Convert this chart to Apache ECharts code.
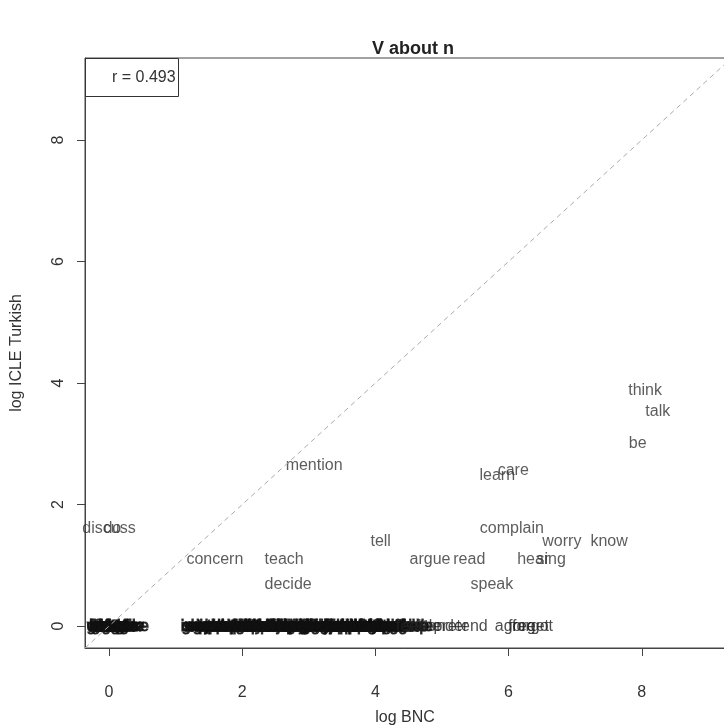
<!DOCTYPE html>
<html>
<head>
<meta charset="utf-8">
<script src="https://cdn.jsdelivr.net/npm/echarts@6/dist/echarts.min.js"></script>
<style>
  html, body { margin: 0; background: #fff; }
  #chart { width: 724px; height: 727px; }
</style>
</head>
<body>
<div id="chart"></div>
<script>
// tick labels
const xTicks = [0, 2, 4, 6, 8]
const yTicks = [0, 2, 4, 6, 8]

// verbs with a count above 1 in ICLE Turkish
const words = ['think', 'talk', 'be', 'care', 'learn', 'mention', 'complain', 'worry', 'know', 'tell',
  'argue', 'read', 'hear', 'sing', 'speak', 'concern', 'teach', 'decide', 'discuss', 'do']
const logBnc = [8.05, 8.24, 7.94, 6.07, 5.83, 3.08, 6.05, 6.80, 7.51, 4.08,
  4.82, 5.41, 6.37, 6.64, 5.75, 1.59, 2.63, 2.69, 0, 0.05]
const logIcle = [3.87, 3.53, 3.00, 2.56, 2.48, 2.64, 1.61, 1.39, 1.39, 1.39,
  1.10, 1.10, 1.10, 1.10, 0.69, 1.10, 1.10, 0.69, 1.61, 1.61]

// verbs seen once in ICLE Turkish (log = 0)
const onceWords = [
  'moan', 'rave', 'fuss', 'grumble', 'brag', 'boast', 'whinge', 'rant', 'muse', 'agonise', 'fret', 'argue',
  'carp', 'chunter', 'blether', 'witter', 'grizzle', 'kvetch', 'natter',
  'say', 'shout', 'inquire', 'mutter', 'enquire', 'gossip', 'joke', 'lecture', 'whisper', 'protest', 'quarrel',
  'reminisce', 'testify', 'chat', 'comment', 'negotiate', 'preach', 'inform', 'warn', 'remind', 'fantasise',
  'hesitate', 'bother', 'puzzle', 'hurry', 'panic', 'remark', 'tease', 'lie', 'dream', 'ask',
  'write', 'laugh', 'cry', 'smile', 'bicker', 'rejoice', 'enthuse', 'speculate', 'theorise', 'moralise',
  'generalise', 'grouse', 'gripe', 'fume', 'bluster', 'crow', 'gloat', 'harp', 'jest', 'lament',
  'marvel', 'meditate', 'mumble', 'murmur', 'obsess', 'pontificate', 'ponder', 'pray', 'prattle', 'rage',
  'rail', 'ramble', 'reason', 'reflect', 'ruminate', 'scoff', 'sneer', 'sermonise', 'snigger', 'sob',
  'squabble', 'stew', 'storm', 'swear', 'tattle', 'twitter', 'waffle', 'whine', 'wail', 'joke',
  'explain', 'report', 'enquire', 'brood', 'fantasize', 'gossip', 'grieve', 'hint', 'joke', 'kid',
  'feel', 'settle', 'set', 'wonder', 'pretend', 'agree', 'forget', 'forgot'
]
const onceBnc = [
  0, 0, 0, 0.1, 0, 0, 0.05, 0.05, 0, 0.18, 0.1, 0.12,
  0, 0.12, 0.1, 0.1, 0.08, 0.05, 0.06,
  1.36, 1.40, 1.44, 1.48, 1.55, 1.61, 1.66, 1.72, 1.79, 1.84, 1.90,
  1.95, 2.00, 2.04, 2.08, 2.13, 2.17, 2.20, 2.25, 2.30, 2.34,
  2.40, 2.44, 2.48, 2.52, 2.56, 2.60, 2.64, 2.68, 2.71, 2.77,
  2.80, 2.83, 2.89, 2.92, 2.94, 3.00, 3.04, 3.09, 3.14, 3.18,
  3.22, 3.26, 3.30, 3.33, 3.37, 3.40, 3.43, 3.47, 3.50, 3.53,
  3.58, 3.61, 3.66, 3.69, 3.73, 3.76, 3.80, 3.83, 3.87, 3.91,
  3.95, 3.99, 4.04, 4.08, 4.11, 4.16, 4.20, 4.25, 4.30, 4.34,
  4.38, 4.42, 1.50, 1.70, 1.88, 2.10, 2.38, 2.58, 2.86, 3.12,
  3.35, 3.56, 3.78, 3.98, 4.22, 4.45, 1.42, 2.22, 2.74, 3.64,
  4.50, 4.70, 4.62, 5.00, 5.28, 6.10, 6.30, 6.36
]

const FONT = 'Liberation Sans, Arial, sans-serif'

const chart = echarts.init(document.getElementById('chart'))

// the crowded stretches print as a solid dark band
const dense = { color: '#111', textBorderColor: '#111', textBorderWidth: 1 }

const labelled = words.map((w, i) => ({ name: w, value: [logBnc[i], logIcle[i]] }))
  .concat(onceWords.map((w, i) => ({
    name: w,
    value: [onceBnc[i], 0],
    label: onceBnc[i] < 4.46 ? dense : { color: '#222' }
  })))

chart.setOption({
  animation: false,
  title: [{
    text: 'V about n',
    left: 408,
    top: 35,
    textAlign: 'center',
    textStyle: { fontFamily: FONT, fontSize: 18, fontWeight: 'bold', color: '#222' }
  }, {
    text: 'r = 0.493',
    left: 85,
    top: 58,
    padding: [12, 3, 11, 27],
    borderColor: '#333',
    borderWidth: 1,
    textStyle: { fontFamily: FONT, fontSize: 16, fontWeight: 'normal', color: '#333' }
  }],
  grid: {
    left: 85,
    right: -1,
    top: 58,
    bottom: 79,
    containLabel: false,
    outerBoundsMode: 'none',
    show: true,
    borderColor: '#444',
    borderWidth: 1,
    backgroundColor: 'transparent'
  },
  xAxis: {
    type: 'value',
    min: -0.36,
    max: 9.25,
    name: 'log BNC',
    nameLocation: 'middle',
    nameGap: 62,
    nameTextStyle: { fontFamily: FONT, fontSize: 16, color: '#333' },
    axisLine: { show: true, onZero: false, lineStyle: { color: '#444' } },
    splitLine: { show: false },
    axisTick: { customValues: xTicks, length: 8, lineStyle: { color: '#444' } },
    axisLabel: { customValues: xTicks, margin: 37, fontFamily: FONT, fontSize: 16, color: '#333' }
  },
  yAxis: {
    type: 'value',
    min: -0.36,
    max: 9.35,
    name: 'log ICLE Turkish',
    nameLocation: 'middle',
    nameGap: 60,
    nameRotate: 90,
    nameTextStyle: { fontFamily: FONT, fontSize: 16, color: '#333' },
    axisLine: { show: true, onZero: false, lineStyle: { color: '#444' } },
    splitLine: { show: false },
    axisTick: { customValues: yTicks, length: 8, lineStyle: { color: '#444' } },
    axisLabel: { customValues: yTicks, rotate: 90, margin: 18, fontFamily: FONT, fontSize: 16, color: '#333' }
  },
  series: [{
    type: 'line',
    data: [[-0.36, -0.36], [9.4, 9.4]],
    symbol: 'none',
    clip: true,
    lineStyle: { color: '#aaa', width: 1, type: [5, 4] },
    silent: true
  }, {
    type: 'scatter',
    data: labelled,
    symbolSize: 1,
    itemStyle: { color: 'rgba(0,0,0,0)' },
    label: {
      show: true,
      position: 'inside',
      formatter: p => p.name,
      fontFamily: FONT,
      fontSize: 16,
      color: '#333'
    }
  }]
})
</script>
</body>
</html>
